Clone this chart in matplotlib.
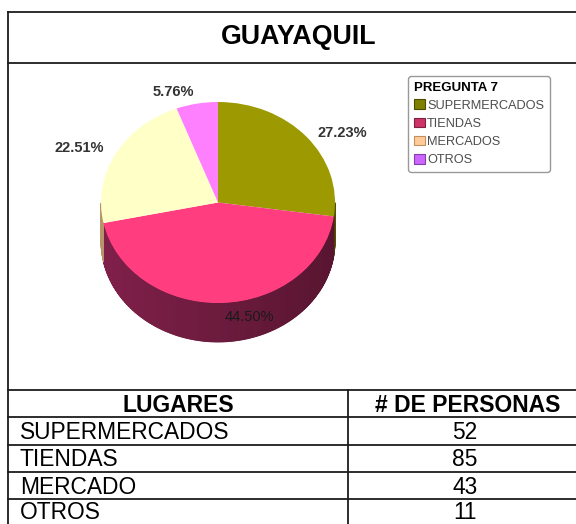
import numpy as np
import matplotlib.pyplot as plt
from matplotlib.patches import Patch
from matplotlib.colors import to_rgb

plt.rcParams['font.family'] = ['Liberation Sans', 'DejaVu Sans']

# datos
titulo = "GUAYAQUIL"
lugares = ["SUPERMERCADOS", "TIENDAS", "MERCADO", "OTROS"]
leyenda = ["SUPERMERCADOS", "TIENDAS", "MERCADOS", "OTROS"]
personas = [52, 85, 43, 11]
encabezados = ["LUGARES", "# DE PERSONAS"]

# colores
top_colors = ["#9c9a00", "#ff3d7f", "#ffffc8", "#ff80ff"]
side_colors = [("#5e5c00", "#545200"), ("#80204a", "#581530"),
               ("#b8946a", "#a8845a"), ("#b050b0", "#b050b0")]
legend_colors = ["#808000", "#cc3366", "#ffcc99", "#cc66ff"]
legend_edges = ["#4d4d00", "#80203f", "#c09060", "#8040a8"]

# posiciones de las etiquetas (coordenadas del pastel)
label_pos = [(1.06, 0.69), (0.27, -1.14), (-1.19, 0.54), (-0.38, 1.10)]

W, H = 576, 524
fig = plt.figure(figsize=(W / 100, H / 100), dpi=100)
bg = fig.add_axes([0, 0, 1, 1])
bg.set_xlim(0, W)
bg.set_ylim(H, 0)
bg.axis('off')

lc = "#1c1c1c"
lw = 1.3
# marco exterior y titulo
bg.plot([8, 8], [12, H + 5], color=lc, lw=lw)
bg.plot([8, W + 5], [12, 12], color=lc, lw=lw)
bg.plot([8, W + 5], [63, 63], color=lc, lw=lw)
bg.text(299, 37.5, titulo, ha='center', va='center', fontsize=19.3,
        fontweight='bold', color='black')

# tabla
row_lines = [390, 417, 445, 472, 499, 526]
col_x = [8, 348, 588]
for y in row_lines:
    bg.plot([8, W + 5], [y, y], color=lc, lw=lw)
bg.plot([348, 348], [390, H + 5], color=lc, lw=lw)

c1 = (col_x[0] + col_x[1]) / 2
c2 = (col_x[1] + col_x[2]) / 2
hy = (row_lines[0] + row_lines[1]) / 2 + 8
bg.text(c1, hy, encabezados[0], ha='center', va='baseline', fontsize=16.5,
        fontweight='bold')
bg.text(c2, hy, encabezados[1], ha='center', va='baseline', fontsize=16.5,
        fontweight='bold')
for i, (lug, n) in enumerate(zip(lugares, personas)):
    y = min((row_lines[i + 1] + row_lines[i + 2]) / 2 + 8, 519)
    bg.text(20, y, lug, ha='left', va='baseline', fontsize=16.4)
    bg.text(c2 - 3, y, str(n), ha='center', va='baseline', fontsize=16.4)

# pastel 3D
cx, cy, rx, ry, depth_px = 218, 202.5, 117, 100.5, 39
dd = depth_px / ry
lim = 1.3
left = cx - lim * rx
top = cy - lim * ry
pw = 2 * lim * rx
ph = (2 * lim + dd) * ry
ax = fig.add_axes([left / W, 1 - (top + ph) / H, pw / W, ph / H])

total = sum(personas)
cum = np.concatenate([[0], np.cumsum(personas)]) / total
bounds = 90 - 360 * cum

for i in range(len(personas)):
    a0, a1 = bounds[i], bounds[i + 1]
    th = np.linspace(a0, a1, max(int(abs(a0 - a1) * 2), 2))
    c_l = np.array(to_rgb(side_colors[i][0]))
    c_r = np.array(to_rgb(side_colors[i][1]))
    for t0, t1 in zip(th[:-1], th[1:]):
        tm = np.radians((t0 + t1) / 2)
        if np.sin(tm) > 0:
            continue
        r0, r1 = np.radians(t0), np.radians(t1)
        xs = [np.cos(r0), np.cos(r1), np.cos(r1), np.cos(r0)]
        ys = [np.sin(r0), np.sin(r1), np.sin(r1) - dd, np.sin(r0) - dd]
        f = (np.cos(tm) + 1) / 2
        col = c_l * (1 - f) + c_r * f
        ax.fill(xs, ys, color=col, lw=0.6, edgecolor=col)

ax.pie(personas, colors=top_colors, startangle=90, counterclock=False,
       radius=1, wedgeprops=dict(linewidth=0))
ax.set_aspect('auto')
ax.set_xlim(-lim, lim)
ax.set_ylim(-lim - dd, lim)
ax.axis('off')

for i, (n, (lx, ly)) in enumerate(zip(personas, label_pos)):
    txt = f"{n / total * 100:.2f}%"
    if i == 1:
        ax.text(lx, ly, txt, ha='center', va='center', fontsize=10.5,
                color='#1a1a1a', zorder=5)
    else:
        ax.text(lx, ly, txt, ha='center', va='center', fontsize=10.5,
                fontweight='bold', color='#333333', zorder=5)

# leyenda
handles = [Patch(facecolor=c, edgecolor=e, linewidth=0.8)
           for c, e in zip(legend_colors, legend_edges)]
leg = fig.legend(handles, leyenda, title="PREGUNTA 7", loc='upper left',
                 bbox_to_anchor=(408 / W, 1 - 76 / H), fontsize=9.2,
                 title_fontproperties={'weight': 'bold', 'size': 9.5},
                 alignment='left', handlelength=0.9, handleheight=0.8,
                 handletextpad=0.15, labelspacing=0.45, borderpad=0.45,
                 borderaxespad=0, fancybox=True, framealpha=1)
leg.get_frame().set_edgecolor('#999999')
leg.get_frame().set_linewidth(1.0)
for t in leg.get_texts():
    t.set_color('#4d4d4d')

fig.savefig("out.png", dpi=100)
